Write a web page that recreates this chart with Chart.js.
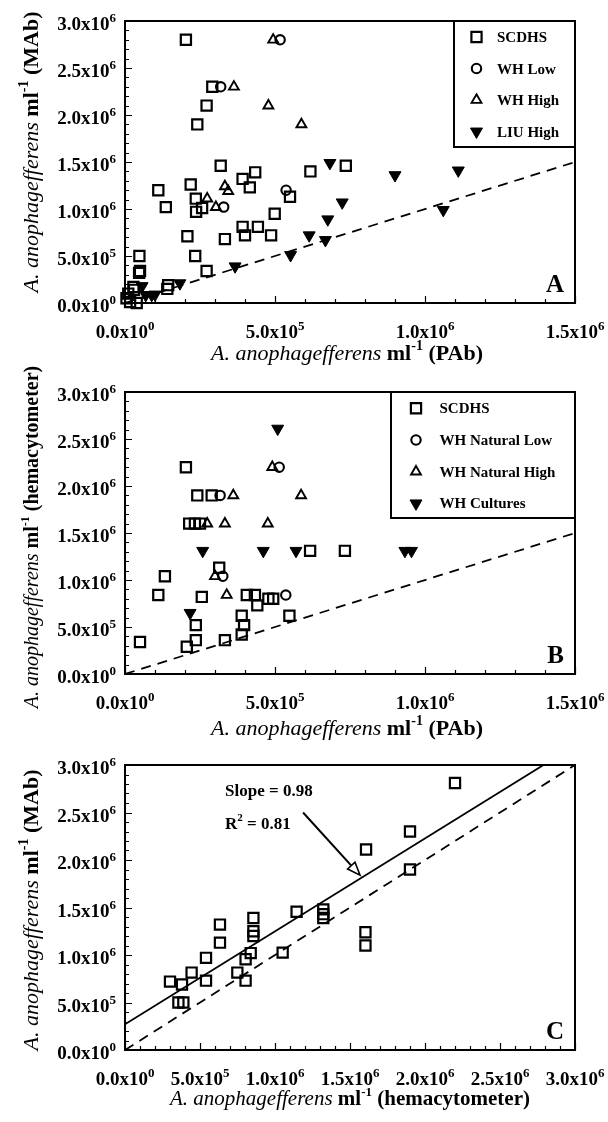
<!DOCTYPE html>
<html><head><meta charset="utf-8">
<script src="https://cdn.jsdelivr.net/npm/chart.js@4.4.1/dist/chart.umd.min.js"></script>
<style>
html,body{margin:0;padding:0;background:#fff;}
body{width:608px;height:1122px;position:relative;overflow:hidden;}
canvas{position:absolute;left:0;}
</style></head><body>
<canvas id="cA" width="608" height="370" style="top:0px"></canvas>
<canvas id="cB" width="608" height="400" style="top:345px"></canvas>
<canvas id="cC" width="608" height="377" style="top:745px"></canvas>
<script>
// ---------- DATA (values in millions of cells per ml) ----------
// Panel A: MAb (y) vs PAb (x)
const aScdhsX = [0.203,0.291,0.272,0.241,0.319,0.392,0.434,0.416,0.618,0.736,0.111,0.136,0.219,0.236,0.237,0.257,0.550,0.499,0.392,0.400,0.443,0.487,0.208,0.333,0.234,0.272,0.048,0.047,0.050,0.144,0.141,0.011,0.028,0.017,0.039,0.030,0.005];
const aScdhsY = [2.80,2.30,2.10,1.90,1.46,1.32,1.39,1.23,1.40,1.46,1.20,1.02,1.26,1.11,0.97,1.01,1.13,0.95,0.81,0.72,0.81,0.72,0.71,0.68,0.50,0.34,0.50,0.32,0.34,0.19,0.15,0.10,0.17,0.01,0.00,0.14,0.05];
const aWhLowX = [0.319,0.517,0.329,0.537];
const aWhLowY = [2.30,2.80,1.02,1.20];
const aWhHighX = [0.363,0.494,0.478,0.588,0.333,0.344,0.274,0.303];
const aWhHighY = [2.30,2.80,2.10,1.90,1.24,1.19,1.11,1.02];
const aLiuX = [0.683,0.900,1.111,1.061,0.724,0.676,0.614,0.668,0.552,0.367,0.183,0.057,0.069,0.089,0.100];
const aLiuY = [1.49,1.36,1.41,0.99,1.07,0.89,0.72,0.67,0.51,0.39,0.21,0.18,0.085,0.085,0.09];

// Panel B: hemacytometer (y) vs PAb (x)
const bScdhsX = [0.203,0.241,0.289,0.214,0.233,0.250,0.617,0.733,0.133,0.111,0.050,0.314,0.256,0.406,0.433,0.478,0.494,0.441,0.389,0.397,0.389,0.548,0.236,0.236,0.206,0.333];
const bScdhsY = [2.20,1.90,1.90,1.60,1.60,1.60,1.31,1.31,1.04,0.84,0.34,1.13,0.82,0.84,0.84,0.80,0.80,0.73,0.62,0.52,0.42,0.62,0.52,0.36,0.29,0.36];
const bNatLowX = [0.514,0.317,0.326,0.536];
const bNatLowY = [2.20,1.90,1.04,0.84];
const bNatHighX = [0.491,0.361,0.587,0.274,0.333,0.476,0.300,0.339];
const bNatHighY = [2.20,1.90,1.90,1.60,1.60,1.60,1.04,0.84];
const bCultX = [0.509,0.259,0.461,0.570,0.933,0.955,0.217];
const bCultY = [2.61,1.31,1.31,1.31,1.31,1.31,0.65];

// Panel C: MAb (y) vs hemacytometer (x)
const cScdhsX = [0.30,0.38,0.356,0.389,0.444,0.54,0.54,0.633,0.633,0.749,0.804,0.804,0.838,0.856,0.856,0.856,1.051,1.144,1.322,1.322,1.322,1.603,1.603,1.607,1.90,1.90,2.20];
const cScdhsY = [0.72,0.69,0.50,0.50,0.815,0.73,0.97,1.32,1.13,0.815,0.73,0.955,1.02,1.39,1.25,1.20,1.025,1.455,1.48,1.43,1.39,1.24,1.10,2.11,2.30,1.90,2.81];

// Reference lines (endpoints)
const abOneToOneX = [0, 1.5];
const abOneToOneY = [0, 1.5];
const cOneToOneX = [0, 3.0];
const cOneToOneY = [0, 3.0];
const cFitX = [0, 2.79];
const cFitY = [0.27, 3.0];

// Tick labels
const yTickVals = [0, 0.5, 1.0, 1.5, 2.0, 2.5, 3.0];
const yTickMant = ['0.0','5.0','1.0','1.5','2.0','2.5','3.0'];
const yTickExp  = ['0','5','6','6','6','6','6'];
const abXTickVals = [0, 0.5, 1.0, 1.5];
const abXTickMant = ['0.0','5.0','1.0','1.5'];
const abXTickExp  = ['0','5','6','6'];
const cXTickVals = [0, 0.5, 1.0, 1.5, 2.0, 2.5, 3.0];
const cXTickMant = ['0.0','5.0','1.0','1.5','2.0','2.5','3.0'];
const cXTickExp  = ['0','5','6','6','6','6','6'];

// Annotation (panel C)
const cSlopeText = 'Slope = 0.98';
const cR2Text = '0.81';

// ---------- RENDERING ----------
const SERIF = '"Liberation Serif","Times New Roman",serif';
const font = (st, sz) => st + ' ' + sz + 'px ' + SERIF;

function segsWidth(ctx, segs){ let w=0; for(const s of segs){ ctx.font=s.f; w+=ctx.measureText(s.t).width; } return w; }
function drawSegs(ctx, segs, x, y){ for(const s of segs){ ctx.font=s.f; ctx.fillText(s.t, x, y+(s.dy||0)); x+=ctx.measureText(s.t).width; } }
function tickSegs(m, e){ return [{t:m+'x10', f:font('bold',19)}, {t:e, f:font('bold',13), dy:-8}]; }
function titleSegs(suffix, size){
  return [
    {t:'A. anophagefferens', f:font('italic', size)},
    {t:' ml', f:font('bold', size)},
    {t:'-1', f:font('bold', Math.round(size*0.62)), dy:-Math.round(size*0.45)},
    {t:' (' + suffix + ')', f:font('bold', size)}
  ];
}

const ST = {
  square: {pointStyle:'rect', radius:7.2, rotation:0, borderWidth:2.2, fill:'rgba(0,0,0,0)'},
  circle: {pointStyle:'circle', radius:4.7, rotation:0, borderWidth:2.1, fill:'rgba(0,0,0,0)'},
  up:     {pointStyle:'triangle', radius:5.7, rotation:0, borderWidth:1.9, fill:'rgba(0,0,0,0)'},
  down:   {pointStyle:'triangle', radius:6.9, rotation:180, borderWidth:1, fill:'#000'}
};

function ds(label, xs, ys, st){
  return {label, data: xs.map((v,i)=>({x:v, y:ys[i]})),
    pointStyle:st.pointStyle, pointRadius:st.radius, pointRotation:st.rotation,
    pointBorderWidth:st.borderWidth, borderColor:'#000', pointBorderColor:'#000',
    backgroundColor:st.fill, pointBackgroundColor:st.fill, showLine:false, clip:false, order:1};
}
function lineDs(xs, ys, dash){
  return {type:'line', data: xs.map((v,i)=>({x:v, y:ys[i]})), borderColor:'#000', borderWidth:1.8,
    borderDash:dash, pointRadius:0, fill:false, showLine:true, order:10};
}
function scalesCfg(xmax, xh){
  return {
    x:{type:'linear', min:0, max:xmax, ticks:{stepSize:0.1, display:false}, grid:{display:false}, border:{display:false}, afterFit:s=>{s.height=xh;}},
    y:{type:'linear', min:0, max:3, ticks:{stepSize:0.1, display:false}, grid:{display:false}, border:{display:false}, afterFit:s=>{s.width=125;}}
  };
}
const isMajor = v => Math.abs(v/0.5 - Math.round(v/0.5)) < 1e-6;

function drawSym(ctx, st, x, y){
  ctx.save();
  ctx.fillStyle = st.fill; ctx.strokeStyle = '#000'; ctx.lineWidth = st.borderWidth;
  Chart.helpers.drawPoint(ctx, {pointStyle:st.pointStyle, radius:st.radius, rotation:st.rotation, borderWidth:st.borderWidth}, x, y);
  ctx.restore();
}

function panelPlugin(cfg){
  return {
    id: 'panel' + cfg.letter,
    beforeDatasetsDraw(chart){
      const ctx = chart.ctx, a = chart.chartArea, x = chart.scales.x, y = chart.scales.y;
      ctx.save();
      ctx.strokeStyle = '#000'; ctx.lineWidth = 1.2;
      ctx.beginPath();
      for(const t of x.ticks){ const p = Math.round(x.getPixelForValue(t.value))+0.5; const L = isMajor(t.value)?7:4; ctx.moveTo(p, a.bottom); ctx.lineTo(p, a.bottom-L); }
      for(const t of y.ticks){ const p = Math.round(y.getPixelForValue(t.value))+0.5; const L = isMajor(t.value)?7:4; ctx.moveTo(a.left, p); ctx.lineTo(a.left+L, p); }
      ctx.stroke();
      ctx.lineWidth = 2;
      ctx.strokeRect(a.left, a.top, a.right-a.left, a.bottom-a.top);
      ctx.restore();
    },
    afterDatasetsDraw(chart){
      const ctx = chart.ctx, a = chart.chartArea, x = chart.scales.x, y = chart.scales.y;
      ctx.save();
      ctx.fillStyle = '#000'; ctx.textBaseline = 'alphabetic'; ctx.textAlign = 'left';
      // tick labels
      cfg.xt.vals.forEach((v,i)=>{ const s = tickSegs(cfg.xt.mant[i], cfg.xt.exp[i]); const w = segsWidth(ctx,s); drawSegs(ctx, s, x.getPixelForValue(v)-w/2, a.bottom+35); });
      yTickVals.forEach((v,i)=>{ const s = tickSegs(yTickMant[i], yTickExp[i]); const w = segsWidth(ctx,s); drawSegs(ctx, s, 116-w, y.getPixelForValue(v)+9); });
      // x title
      let s = titleSegs(cfg.xTitle, cfg.xTitleSize); let w = segsWidth(ctx, s);
      drawSegs(ctx, s, cfg.xTitleX - w/2, cfg.xTitleY);
      // y title
      s = titleSegs(cfg.yTitle, cfg.yTitleSize); w = segsWidth(ctx, s);
      ctx.save(); ctx.translate(cfg.yTitleX, cfg.yTitleY); ctx.rotate(-Math.PI/2);
      drawSegs(ctx, s, -w/2, 0); ctx.restore();
      // panel letter
      ctx.font = font('bold', 25); ctx.textAlign = 'right';
      ctx.fillText(cfg.letter, a.right-11, a.bottom-11);
      ctx.textAlign = 'left';
      // legend
      if(cfg.legend){
        const L = cfg.legend, b = L.box;
        ctx.fillStyle = '#fff'; ctx.fillRect(b[0], b[1], b[2]-b[0], b[3]-b[1]);
        ctx.strokeStyle = '#000'; ctx.lineWidth = 2; ctx.strokeRect(b[0], b[1], b[2]-b[0], b[3]-b[1]);
        ctx.fillStyle = '#000';
        L.items.forEach((it, i)=>{
          const yy = b[1] + L.y0 + i*L.dy;
          drawSym(ctx, it.st, b[0]+L.symX, yy);
          ctx.fillStyle = '#000'; ctx.font = font('bold', 15);
          ctx.fillText(it.label, b[0]+L.textX, yy+5);
        });
      }
      if(cfg.extra) cfg.extra(chart);
      ctx.restore();
    }
  };
}

function makeChart(id, datasets, xmax, xh, padTop, cfg){
  return new Chart(document.getElementById(id), {
    type:'scatter',
    data:{datasets},
    options:{
      responsive:false, animation:false, events:[],
      layout:{padding:{top:padTop, right:33, left:0, bottom:0}},
      scales: scalesCfg(xmax, xh),
      plugins:{legend:{display:false}, tooltip:{enabled:false}}
    },
    plugins:[panelPlugin(cfg)]
  });
}

// Panel A (canvas top = 0)
makeChart('cA', [
  ds('SCDHS', aScdhsX, aScdhsY, ST.square),
  ds('WH Low', aWhLowX, aWhLowY, ST.circle),
  ds('WH High', aWhHighX, aWhHighY, ST.up),
  ds('LIU High', aLiuX, aLiuY, ST.down),
  lineDs(abOneToOneX, abOneToOneY, [10,7])
], 1.5, 67, 21, {
  letter:'A', xt:{vals:abXTickVals, mant:abXTickMant, exp:abXTickExp},
  xTitle:'PAb', xTitleX:347, xTitleY:360, xTitleSize:22,
  yTitle:'MAb', yTitleX:38, yTitleY:152, yTitleSize:22,
  legend:{box:[454,21,575,147], symX:22.5, textX:43, y0:16, dy:31.5, items:[
    {label:'SCDHS', st:ST.square},{label:'WH Low', st:ST.circle},{label:'WH High', st:ST.up},{label:'LIU High', st:ST.down}]}
});

// Panel B (canvas top = 345)
makeChart('cB', [
  ds('SCDHS', bScdhsX, bScdhsY, ST.square),
  ds('WH Natural Low', bNatLowX, bNatLowY, ST.circle),
  ds('WH Natural High', bNatHighX, bNatHighY, ST.up),
  ds('WH Cultures', bCultX, bCultY, ST.down),
  lineDs(abOneToOneX, abOneToOneY, [10,7])
], 1.5, 71, 47, {
  letter:'B', xt:{vals:abXTickVals, mant:abXTickMant, exp:abXTickExp},
  xTitle:'PAb', xTitleX:347, xTitleY:390, xTitleSize:22,
  yTitle:'hemacytometer', yTitleX:38, yTitleY:192, yTitleSize:20,
  legend:{box:[391,47,575,173], symX:25, textX:48.5, y0:16.3, dy:31.7, items:[
    {label:'SCDHS', st:ST.square},{label:'WH Natural Low', st:ST.circle},{label:'WH Natural High', st:ST.up},{label:'WH Cultures', st:ST.down}]}
});

// Panel C (canvas top = 745)
makeChart('cC', [
  ds('SCDHS', cScdhsX, cScdhsY, ST.square),
  lineDs(cFitX, cFitY, []),
  lineDs(cOneToOneX, cOneToOneY, [10,7])
], 3.0, 72, 20, {
  letter:'C', xt:{vals:cXTickVals, mant:cXTickMant, exp:cXTickExp},
  xTitle:'hemacytometer', xTitleX:350, xTitleY:360, xTitleSize:21,
  yTitle:'MAb', yTitleX:38, yTitleY:165, yTitleSize:22,
  extra(chart){
    const ctx = chart.ctx, x = chart.scales.x, y = chart.scales.y;
    ctx.fillStyle = '#000'; ctx.textAlign = 'left';
    ctx.font = font('bold', 17);
    const tx = x.getPixelForValue(0.667);
    ctx.fillText(cSlopeText, tx, y.getPixelForValue(2.74)+6);
    drawSegs(ctx, [{t:'R', f:font('bold',17)}, {t:'2', f:font('bold',11), dy:-8}, {t:' = ' + cR2Text, f:font('bold',17)}], tx, y.getPixelForValue(2.39)+6);
    // arrow
    const x0 = x.getPixelForValue(1.187), y0 = y.getPixelForValue(2.50);
    const x1 = x.getPixelForValue(1.567), y1 = y.getPixelForValue(1.84);
    const ang = Math.atan2(y1-y0, x1-x0), hl = 13, hw = 5;
    const bx = x1 - hl*Math.cos(ang), by = y1 - hl*Math.sin(ang);
    ctx.strokeStyle = '#000'; ctx.lineWidth = 2;
    ctx.beginPath(); ctx.moveTo(x0, y0); ctx.lineTo(bx, by); ctx.stroke();
    ctx.lineWidth = 1.6;
    ctx.beginPath();
    ctx.moveTo(x1, y1);
    ctx.lineTo(bx + hw*Math.sin(ang), by - hw*Math.cos(ang));
    ctx.lineTo(bx - hw*Math.sin(ang), by + hw*Math.cos(ang));
    ctx.closePath(); ctx.fillStyle='#fff'; ctx.fill(); ctx.stroke();
  }
});
</script></body></html>
